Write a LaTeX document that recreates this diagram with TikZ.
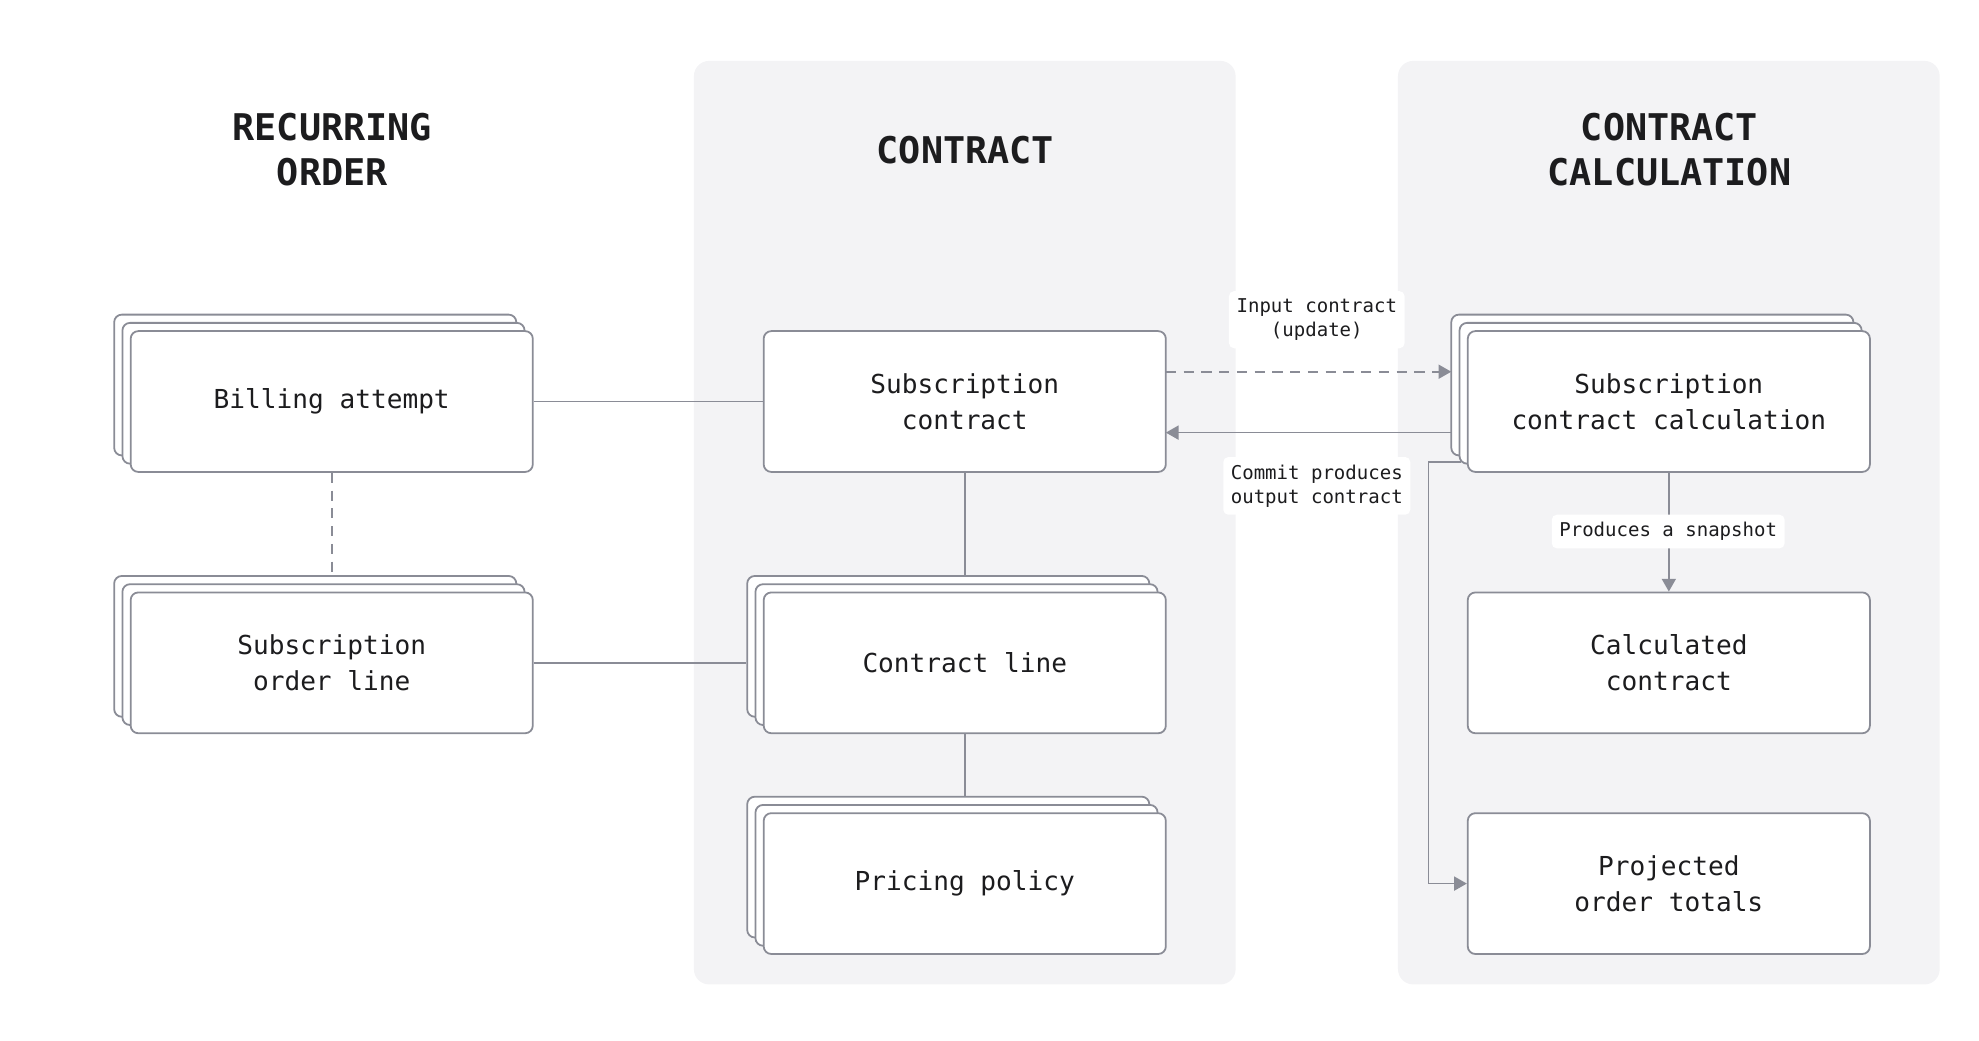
\documentclass[tikz,border=0pt]{standalone}
\usepackage{fontspec}
\setmonofont{DejaVu Sans Mono}
\usetikzlibrary{arrows.meta}
\definecolor{panel}{HTML}{F3F3F5}
\definecolor{edge}{HTML}{8A8C96}
\definecolor{ink}{HTML}{1C1C1E}
\begin{document}
\begin{tikzpicture}[x=0.5pt,y=-0.5pt,
  box/.style={draw=edge,fill=white,line width=0.7pt,rounded corners=3pt,minimum width=158.5pt,minimum height=55.5pt,align=center,font=\ttfamily\fontsize{10.3}{14}\selectfont,text=ink,inner sep=0pt},
  back/.style={draw=edge,fill=white,line width=0.7pt,rounded corners=3pt,minimum width=158.5pt,minimum height=55.5pt,inner sep=0pt},
  title/.style={font=\ttfamily\bfseries\fontsize{14.5}{17.5}\selectfont,text=ink,align=center},
  lab/.style={fill=white,rounded corners=2pt,font=\ttfamily\fontsize{7.5}{9.5}\selectfont,text=ink,align=center,inner sep=3pt},
  conn/.style={draw=edge,line width=0.7pt},
  arr/.style={conn,-{Triangle[length=5pt,width=5.5pt]},color=edge}]
\useasboundingbox (0,0) rectangle (1560,820);
\fill[panel,rounded corners=6pt] (547,48) rectangle (974,776);
\fill[panel,rounded corners=6pt] (1102,48) rectangle (1529,776);
\node[title] (t1) at (262,118) {RECURRING\\ORDER};
\node[title] (t2) at (761,118) {CONTRACT};
\node[title] (t3) at (1316,118) {CONTRACT\\CALCULATION};
% billing attempt
\node[back] (ba2) at (248.5,303.5) {};
\node[back] (ba1) at (255,310) {};
\node[box] (ba) at (261.5,316.5) {Billing attempt};
% subscription order line
\node[back] (so2) at (248.5,509.5) {};
\node[back] (so1) at (255,516) {};
\node[box] (so) at (261.5,522.5) {Subscription\\order line};
% subscription contract
\node[box] (sc) at (760.5,316.5) {Subscription\\contract};
% contract line
\node[back] (cl2) at (747.5,509.5) {};
\node[back] (cl1) at (754,516) {};
\node[box] (cl) at (760.5,522.5) {Contract line};
% pricing
\node[back] (pp2) at (747.5,683.5) {};
\node[back] (pp1) at (754,690) {};
\node[box] (pp) at (760.5,696.5) {Pricing policy};
% calc
\node[back] (cc2) at (1302.5,303.5) {};
\node[back] (cc1) at (1309,310) {};
\node[box] (cc) at (1315.5,316.5) {Subscription\\contract calculation};
\node[box] (cd) at (1315.5,522.5) {Calculated\\contract};
\node[box] (po) at (1315.5,696.5) {Projected\\order totals};
% connectors
\draw[conn] (ba.east) -- (sc.west);
\draw[conn,dashed,dash pattern=on 4pt off 3pt] (ba.south) -- (ba.south |- so2.north);
\draw[conn] (so.east) -- (so.east -| cl2.west);
\draw[conn] (sc.south) -- (sc.south |- cl2.north);
\draw[conn] (cl.south) -- (cl.south |- pp2.north);
\coordinate (a1) at (919,293);
\coordinate (a2) at (1144,293);
\draw[arr,dashed,dash pattern=on 4pt off 3pt] (a1) -- (a2);
\coordinate (b1) at (1144,341);
\coordinate (b2) at (919,341);
\draw[arr] (b1) -- (b2);
\draw[arr] (cc.south) -- (cd.north);
\coordinate (e1) at (1152,364);
\draw[arr] (e1) -- (1126,364) |- (po.west);
\node[lab] (l1) at (1038,252) {Input contract\\(update)};
\node[lab] (l2) at (1038,383) {Commit produces\\output contract};
\node[lab] (l3) at (1315,419) {Produces a snapshot};
\end{tikzpicture}
\end{document}
